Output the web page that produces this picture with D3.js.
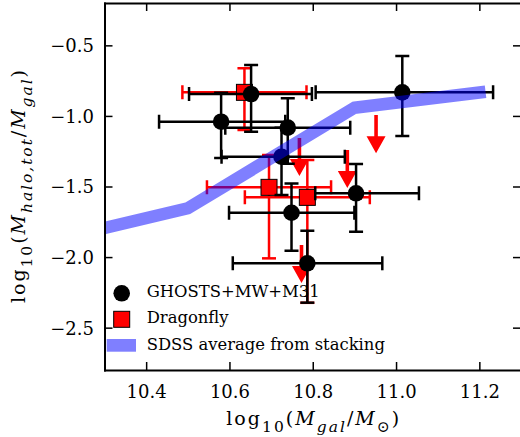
<!DOCTYPE html>
<html lang="en">
<head>
<meta charset="UTF-8">
<title>Halo mass fraction vs galaxy stellar mass</title>
<script src="https://d3js.org/d3.v7.min.js"></script>
<style>
  body { margin: 0; background: #fff; }
  svg { display: block; font-family: "DejaVu Serif", "Liberation Serif", serif; }
  .axis path, .axis line { stroke: #000; }
  .axis path { stroke-width: 2px; }
  .axis line { stroke-width: 1.5px; }
  .axis text { font-family: "DejaVu Serif", "Liberation Serif", serif; font-size: 18px; fill: #000; }
</style>
</head>
<body>
<div id="chart"></div>
<script>
// GHOSTS + MW + M31 (black circles)
var ghostsX   = [10.652, 10.580, 10.740, 10.725, 10.904, 10.749, 10.787, 11.015];
var ghostsY   = [-0.845, -1.041, -1.083, -1.289, -1.548, -1.686, -2.044, -0.833];
var ghostsXLo = [0.149, 0.149, 0.150, 0.144, 0.098, 0.150, 0.179, 0.208];
var ghostsXHi = [0.146, 0.154, 0.150, 0.152, 0.151, 0.151, 0.180, 0.218];
var ghostsYLo = [0.267, 0.257, 0.255, 0.271, 0.272, 0.269, 0.279, 0.310];
var ghostsYHi = [0.205, 0.205, 0.208, 0.205, 0.208, 0.208, 0.231, 0.257];

// Dragonfly (red squares)
var dfX   = [10.636, 10.695, 10.787];
var dfY   = [-0.833, -1.506, -1.577];
var dfXE  = [0.149, 0.149, 0.150];
var dfYLo = [0.267, 0.503, 0.747];
var dfYHi = [0.170, 0.229, 0.264];

// Dragonfly upper limits (red arrows)
var limX = [10.952, 10.768, 10.883, 10.773];
var limY = [-0.994, -1.156, -1.241, -1.914];

// SDSS stacking average (blue band)
var sdssX = [10.3, 10.5, 10.9, 11.2];
var sdssY = [-1.794, -1.654, -0.942, -0.834];

var xTicks = [10.4, 10.6, 10.8, 11.0, 11.2];
var yTicks = [-0.5, -1.0, -1.5, -2.0, -2.5];

var legendLabels = ["GHOSTS+MW+M31", "Dragonfly", "SDSS average from stacking"];

var width = 520, height = 437;
var pL = 104.5, pR = 521, pT = 3, pB = 370;
var capHalf = 7, arrowLen = 0.27;

var svg = d3.select("#chart").append("svg")
  .attr("width", width)
  .attr("height", height);

svg.append("rect").attr("width", width).attr("height", height).attr("fill", "#fff");

var x = d3.scaleLinear().domain([10.3, 11.3]).range([pL, pR]);
var y = d3.scaleLinear().domain([-2.8, -0.2]).range([pB, pT]);

svg.append("clipPath").attr("id", "plotclip")
  .append("rect")
  .attr("x", pL).attr("y", pT)
  .attr("width", pR - pL).attr("height", pB - pT);

var plot = svg.append("g").attr("clip-path", "url(#plotclip)");

function errorbars(g, xs, ys, xlo, xhi, ylo, yhi, color) {
  var eb = g.append("g").attr("stroke", color).attr("stroke-width", 2.5).attr("fill", "none");
  xs.forEach(function(xv, i) {
    var cx = x(xv), cy = y(ys[i]);
    var x0 = x(xv - xlo[i]), x1 = x(xv + xhi[i]);
    var y0 = y(ys[i] + yhi[i]), y1 = y(ys[i] - ylo[i]);
    eb.append("line").attr("x1", x0).attr("x2", x1).attr("y1", cy).attr("y2", cy);
    eb.append("line").attr("x1", cx).attr("x2", cx).attr("y1", y0).attr("y2", y1);
    [x0, x1].forEach(function(xx) {
      eb.append("line").attr("x1", xx).attr("x2", xx).attr("y1", cy - capHalf).attr("y2", cy + capHalf);
    });
    [y0, y1].forEach(function(yy) {
      eb.append("line").attr("x1", cx - capHalf).attr("x2", cx + capHalf).attr("y1", yy).attr("y2", yy);
    });
  });
}

// Dragonfly
errorbars(plot, dfX, dfY, dfXE, dfXE, dfYLo, dfYHi, "#ff0000");

plot.append("g").selectAll("path")
  .data(limX)
  .enter().append("path")
  .attr("fill", "#ff0000")
  .attr("d", function(d, i) {
    var xt = x(d), y0 = y(limY[i]), tip = y(limY[i] - arrowLen);
    var hl = 17, hw = 9.5, sw = 1.8;
    return "M" + (xt - sw) + "," + y0 + "L" + (xt + sw) + "," + y0 +
      "L" + (xt + sw) + "," + (tip - hl) + "L" + (xt + hw) + "," + (tip - hl) +
      "L" + xt + "," + tip + "L" + (xt - hw) + "," + (tip - hl) +
      "L" + (xt - sw) + "," + (tip - hl) + "Z";
  });

plot.append("g").selectAll("rect")
  .data(dfX)
  .enter().append("rect")
  .attr("x", function(d) { return x(d) - 8; })
  .attr("y", function(d, i) { return y(dfY[i]) - 8; })
  .attr("width", 16).attr("height", 16)
  .attr("fill", "#ff0000")
  .attr("stroke", "#000").attr("stroke-width", 1);

// GHOSTS
errorbars(plot, ghostsX, ghostsY, ghostsXLo, ghostsXHi, ghostsYLo, ghostsYHi, "#000");

plot.append("g").selectAll("circle")
  .data(ghostsX)
  .enter().append("circle")
  .attr("cx", function(d) { return x(d); })
  .attr("cy", function(d, i) { return y(ghostsY[i]); })
  .attr("r", 8.3)
  .attr("fill", "#000");

// SDSS band on top
var line = d3.line()
  .x(function(d, i) { return x(sdssX[i]); })
  .y(function(d, i) { return y(sdssY[i]); });

plot.append("path")
  .datum(sdssX)
  .attr("d", line)
  .attr("fill", "none")
  .attr("stroke", "#0000ff")
  .attr("stroke-opacity", 0.5)
  .attr("stroke-width", 12.5)
  .attr("stroke-linecap", "square")
  .attr("stroke-linejoin", "round");

// axes
var fmt = d3.format(".1f");
svg.append("g").attr("class", "axis")
  .attr("transform", "translate(0," + pB + ")")
  .call(d3.axisBottom(x).tickValues(xTicks).tickFormat(fmt).tickSize(-8).tickSizeOuter(0).tickPadding(15));
svg.append("g").attr("class", "axis")
  .attr("transform", "translate(0," + pT + ")")
  .call(d3.axisTop(x).tickValues(xTicks).tickFormat("").tickSize(-8).tickSizeOuter(0));
var ya = svg.append("g").attr("class", "axis")
  .attr("transform", "translate(" + pL + ",0)")
  .call(d3.axisLeft(y).tickValues(yTicks).tickFormat(fmt).tickSize(-8).tickSizeOuter(0).tickPadding(10.5));
ya.selectAll("text").attr("dy", "0.36em");
svg.append("g").attr("class", "axis")
  .attr("transform", "translate(" + pR + ",0)")
  .call(d3.axisRight(y).tickValues(yTicks).tickFormat("").tickSize(-8).tickSizeOuter(0));
svg.selectAll(".axis .domain").attr("stroke-linecap", "square");

// math-style axis labels
function mathText(g, parts, size, subSize, len) {
  var t = g.append("text").attr("text-anchor", "middle")
    .style("font-size", size + "px").attr("fill", "#000")
    .attr("textLength", len).attr("lengthAdjust", "spacing");
  var shifted = false;
  parts.forEach(function(p) {
    var ts = t.append("tspan").text(p[0]);
    var sub = p[1].indexOf("sub") === 0;
    if (sub && !shifted) { ts.attr("dy", 7); shifted = true; }
    else if (!sub && shifted) { ts.attr("dy", -7); shifted = false; }
    if (sub) ts.style("font-size", subSize + "px");
    if (p[1].indexOf("it") >= 0) ts.style("font-style", "italic");
  });
  return t;
}

var xl = svg.append("g").attr("transform", "translate(" + ((pL + pR) / 2) + ",425)");
mathText(xl, [["log", "rm"], ["10", "sub"], ["(", "rm"], ["M", "it"], ["gal", "sub-it"],
  ["/", "rm"], ["M", "it"], ["\u2299", "sub"], [")", "rm"]], 19, 15.5, 173);

var yl = svg.append("g").attr("transform", "translate(25," + ((pT + pB) / 2) + ") rotate(-90)");
mathText(yl, [["log", "rm"], ["10", "sub"], ["(", "rm"], ["M", "it"], ["halo,tot", "sub-it"],
  ["/", "rm"], ["M", "it"], ["gal", "sub-it"], [")", "rm"]], 19, 15.5, 233);

// legend
var lg = svg.append("g");
lg.append("circle").attr("cx", 121.7).attr("cy", 293.3).attr("r", 8.3).attr("fill", "#000");
lg.append("rect").attr("x", 113.7).attr("y", 311.3).attr("width", 16).attr("height", 16)
  .attr("fill", "#ff0000").attr("stroke", "#000").attr("stroke-width", 1);
lg.append("rect").attr("x", 106.7).attr("y", 339).attr("width", 29.3).attr("height", 12.7)
  .attr("fill", "#0000ff").attr("fill-opacity", 0.5);
lg.selectAll("text.leg")
  .data(legendLabels)
  .enter().append("text")
  .attr("class", "leg")
  .attr("x", 146.7)
  .attr("y", function(d, i) { return [297.3, 323.3, 350.3][i]; })
  .style("font-size", "16.4px")
  .attr("fill", "#000")
  .text(function(d) { return d; });
</script>
</body>
</html>
